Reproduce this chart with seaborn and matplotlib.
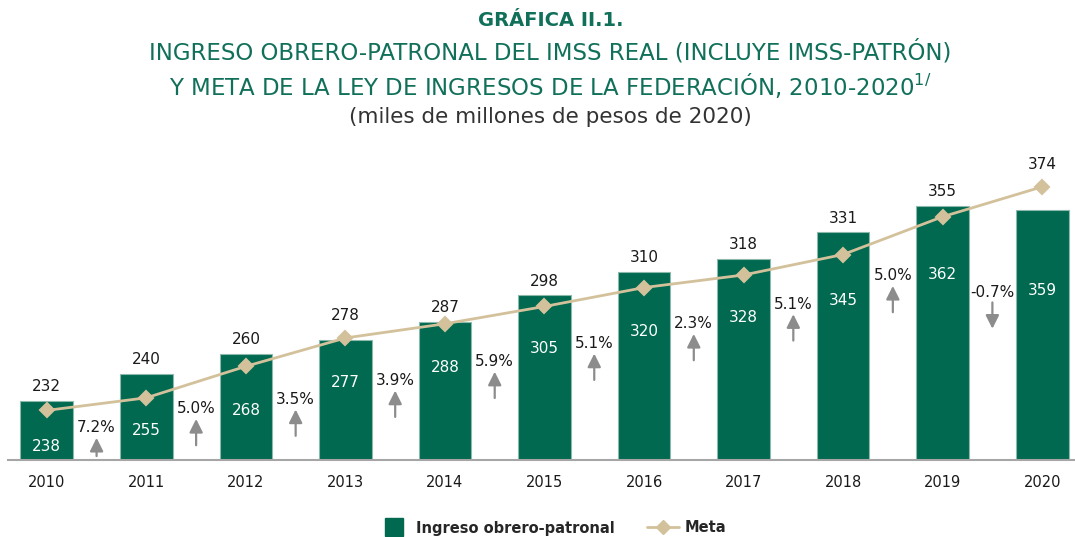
import numpy as np
import pandas as pd
import matplotlib
matplotlib.use("Agg")
import matplotlib.pyplot as plt
import seaborn as sns
from matplotlib.lines import Line2D

# datos
years = ["2010", "2011", "2012", "2013", "2014", "2015", "2016", "2017", "2018", "2019", "2020"]
ingreso = [238, 255, 268, 277, 288, 305, 320, 328, 345, 362, 359]
meta = [232, 240, 260, 278, 287, 298, 310, 318, 331, 355, 374]
crec_labels = ["7.2%", "5.0%", "3.5%", "3.9%", "5.9%", "5.1%", "2.3%", "5.1%", "5.0%", "-0.7%"]
crec = [7.2, 5.0, 3.5, 3.9, 5.9, 5.1, 2.3, 5.1, 5.0, -0.7]

# alturas (en unidades del eje) donde van las etiquetas
ingreso_label_y = [209, 219, 232, 250, 259, 271, 282, 291, 302, 318, 308]
crec_label_y = [221, 233, 239, 251, 263, 274.5, 287, 299.5, 317.5, 307]

VERDE = "#00694F"
TITULO = "#11705A"
ORO = "#D3C19B"
GRIS = "#8C8C8C"

sns.set_style("white")
plt.rcParams['font.family'] = ['DejaVu Sans']

df = pd.DataFrame({"year": years, "ingreso": ingreso, "meta": meta})

fig = plt.figure(figsize=(10.75, 5.37), dpi=100)
ax = fig.add_axes([8 / 1075, 77 / 537, 1067 / 1075, 311 / 537])

sns.barplot(data=df, x="year", y="ingreso", color=VERDE, saturation=1, width=0.53,
            edgecolor="#8DB9AC", linewidth=0.8, ax=ax)
sns.pointplot(data=df, x="year", y="meta", color=ORO, marker="D", markersize=7,
              linewidth=2, ax=ax)

ax.set_ylim(200.5, 398)
ax.set_xlim(-0.39, 10.33)
ax.set_xlabel("")
ax.set_ylabel("")
ax.set_yticks([])
for s in ["top", "right", "left"]:
    ax.spines[s].set_visible(False)
ax.spines["bottom"].set_color("#A6A6A6")
ax.spines["bottom"].set_linewidth(1.5)
ax.tick_params(axis="x", length=0, pad=11, labelsize=10.5, labelcolor="#1a1a1a")

# etiquetas dentro de las barras
for i, (v, yl) in enumerate(zip(ingreso, ingreso_label_y)):
    ax.text(i, yl, str(v), color="white", ha="center", va="center", fontsize=11)

# etiquetas de la meta
for i, (v, b) in enumerate(zip(meta, ingreso)):
    if v > b:
        ax.annotate(str(v), (i, v), xytext=(0, 11), textcoords="offset points",
                    ha="center", va="bottom", fontsize=11, color="#1a1a1a")
    else:
        ax.annotate(str(v), (i, b), xytext=(0, 5), textcoords="offset points",
                    ha="center", va="bottom", fontsize=11, color="#1a1a1a")

# crecimiento y flechas
for i, (lab, c, yl) in enumerate(zip(crec_labels, crec, crec_label_y)):
    x = i + 0.5
    ax.text(x, yl, lab, ha="center", va="center", fontsize=11, color="#1a1a1a")
    top = yl - 10 / 1.556
    bottom = max(yl - 36 / 1.556, 203)
    style = "-|>,head_width=0.4,head_length=0.8"
    if c >= 0:
        ax.annotate("", xy=(x, top), xytext=(x, bottom),
                    arrowprops=dict(arrowstyle=style, color=GRIS, lw=1.6, shrinkA=0, shrinkB=0))
    else:
        ax.annotate("", xy=(x, bottom), xytext=(x, top),
                    arrowprops=dict(arrowstyle=style, color=GRIS, lw=1.6, shrinkA=0, shrinkB=0))

# titulos
fig.text(0.512, 1 - 20 / 537, "GRÁFICA II.1.", ha="center", va="center",
         fontsize=14, fontweight="bold", color=TITULO)
fig.text(0.512, 1 - 52 / 537,
         "INGRESO OBRERO-PATRONAL DEL IMSS REAL (INCLUYE IMSS-PATRÓN)",
         ha="center", va="center", fontsize=16.5, color=TITULO)
fig.text(0.512, 1 - 85 / 537,
         "Y META DE LA LEY DE INGRESOS DE LA FEDERACIÓN, 2010-2020$^{1/}$",
         ha="center", va="center", fontsize=16.5, color=TITULO)
fig.text(0.512, 1 - 117 / 537, "(miles de millones de pesos de 2020)",
         ha="center", va="center", fontsize=15.5, color="#333333")

handles = [Line2D([0], [0], color=VERDE, lw=0, marker="s", markersize=13,
                  label="Ingreso obrero-patronal"),
           Line2D([0], [0], color=ORO, lw=2, marker="D", markersize=7, label="Meta")]
leg = fig.legend(handles=handles, loc="center", bbox_to_anchor=(0.514, 9 / 537), ncol=2,
                 frameon=False, handlelength=2.2, columnspacing=2.2,
                 handletextpad=0.4, prop={"weight": "semibold", "size": 10.5})

fig.savefig("out.png", dpi=100)
